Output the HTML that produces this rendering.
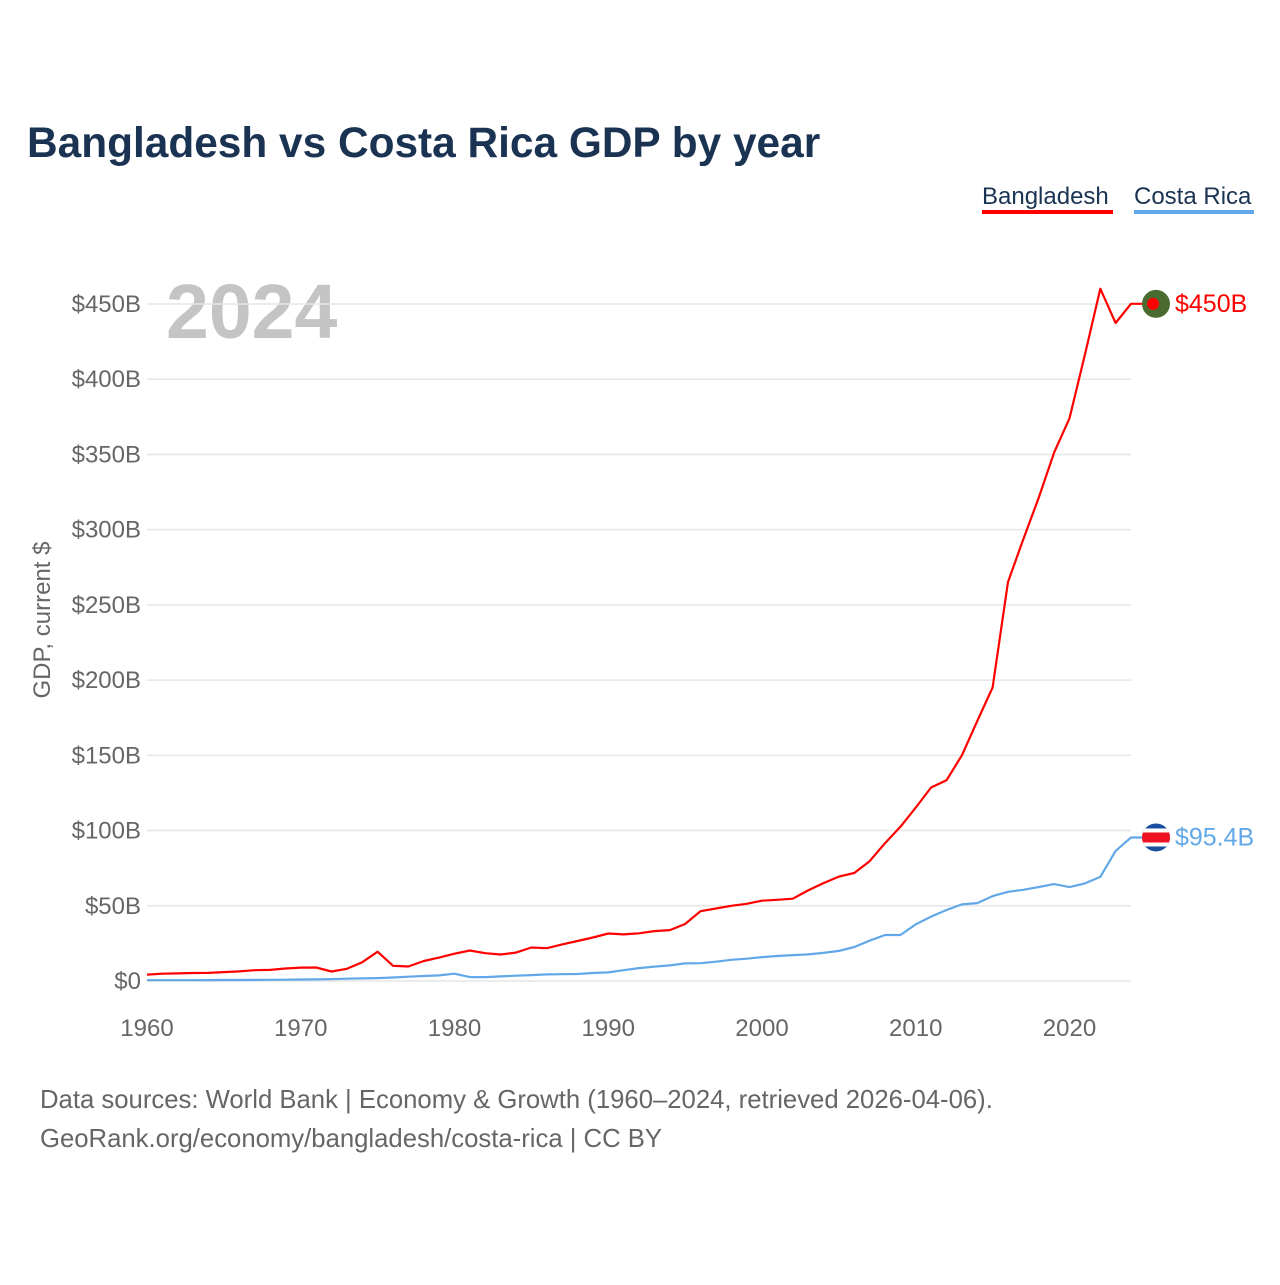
<!DOCTYPE html>
<html><head><meta charset="utf-8"><style>
body{margin:0;background:#fff;width:1280px;height:1280px;overflow:hidden;font-family:"Liberation Sans",sans-serif}
svg text{font-family:"Liberation Sans",sans-serif}
</style></head><body>
<svg id="chart" width="1280" height="1280" xmlns="http://www.w3.org/2000/svg">
<text x="27" y="157" font-size="42.4" font-weight="bold" fill="#1a3352">Bangladesh vs Costa Rica GDP by year</text>
<g>
<text x="982" y="204" font-size="24" fill="#1a3352">Bangladesh</text>
<rect x="982" y="210" width="131" height="4" fill="#ff0000"/>
<text x="1134" y="204" font-size="24" fill="#1a3352">Costa Rica</text>
<rect x="1134" y="210" width="120" height="4" fill="#62a8e8"/>
</g>
<text x="166" y="338" font-size="77" font-weight="bold" fill="#c4c4c4">2024</text>
<text transform="translate(50,620) rotate(-90)" text-anchor="middle" font-size="24" fill="#666">GDP, current $</text>
<g id="grid"></g><g id="lines"></g><g id="marks"></g>
<text x="40" y="1108" font-size="25.7" fill="#666">Data sources: World Bank | Economy &amp; Growth (1960–2024, retrieved 2026-04-06).</text>
<text x="40" y="1147" font-size="25.7" fill="#666">GeoRank.org/economy/bangladesh/costa-rica | CC BY</text>
</svg>
<script>
const years=[];for(let y=1960;y<=2024;y++)years.push(y);
const bangladesh=[4.27,4.82,5.08,5.32,5.39,5.91,6.39,7.21,7.36,8.33,8.93,8.96,6.29,8.09,12.5,19.45,10.12,9.65,13.28,15.57,18.14,20.25,18.5,17.6,18.9,22.3,21.8,24.3,26.6,28.9,31.6,30.96,31.7,33.2,33.8,37.9,46.4,48.2,50.0,51.3,53.4,54.0,54.7,60.2,65.1,69.4,71.8,79.6,91.6,102.5,115.3,128.6,133.4,150.0,172.9,195.1,265.2,293.8,321.4,351.2,374.0,416.3,460.2,437.4,450.1];
const costaRica=[0.51,0.5,0.53,0.56,0.59,0.64,0.69,0.74,0.8,0.87,0.98,1.08,1.24,1.5,1.71,1.93,2.33,2.89,3.35,3.69,4.83,2.62,2.57,3.08,3.54,3.92,4.4,4.55,4.65,5.34,5.71,7.16,8.57,9.55,10.4,11.72,11.84,12.83,14.1,14.8,15.9,16.6,17.2,17.7,18.7,20.0,22.6,26.8,30.6,30.6,37.7,42.8,47.2,50.9,51.8,56.4,59.3,60.6,62.5,64.4,62.4,64.9,69.2,86.5,95.4];
const yTicks=[0,50,100,150,200,250,300,350,400,450];
const yTickLabels=["$0","$50B","$100B","$150B","$200B","$250B","$300B","$350B","$400B","$450B"];
const xTicks=[1960,1970,1980,1990,2000,2010,2020];
const NS="http://www.w3.org/2000/svg";
const X=y=>147+(y-1960)*(1131-147)/64;
const Y=v=>981-v*(981-304)/450;
function mk(tag,attrs,parent){const e=document.createElementNS(NS,tag);for(const k in attrs)e.setAttribute(k,attrs[k]);parent.appendChild(e);return e;}
const grid=document.getElementById('grid');
yTicks.forEach((t,i)=>{
 const l=mk('line',{x1:147,x2:1131,y1:Y(t),y2:Y(t),stroke:'#e6e6e6','stroke-width':1.5},grid);
 
 
 const tx=mk('text',{x:141,y:Y(t)+8,'text-anchor':'end','font-size':24,fill:'#666'},grid);
 tx.textContent=yTickLabels[i];
 
 
});
xTicks.forEach(t=>{
 const tx=mk('text',{x:X(t),y:1036,'text-anchor':'middle','font-size':24,fill:'#666'},grid);
 tx.textContent=t;
 
 
});
const lines=document.getElementById('lines');
function series(vals,color,name){
 let d=vals.map((v,i)=>(i?'L':'M')+X(years[i]).toFixed(1)+','+Y(v).toFixed(1)).join(' ');
 d+=' L'+(X(2024)+14)+','+Y(vals[vals.length-1]).toFixed(1);
 const p=mk('path',{d:d,fill:'none',stroke:color,'stroke-width':2.2,'stroke-linejoin':'round'},lines);
 
 
}
series(costaRica,'#62a8e8','costa-rica');
series(bangladesh,'#ff0000','bangladesh');
const marks=document.getElementById('marks');
const bx=1156,by=Y(bangladesh[64]);
const g1=mk('g',{},marks);


mk('circle',{cx:bx,cy:by,r:14,fill:'#4a6b30'},g1);
mk('circle',{cx:bx-3,cy:by,r:6,fill:'#ff0000'},g1);
const t1=mk('text',{x:1175,y:by+8,'font-size':25,fill:'#ff0000'},marks);
t1.textContent='$450B';


const cy=Y(costaRica[64]);
const g2=mk('g',{},marks);


const cp=mk('clipPath',{id:'cc'},g2);mk('circle',{cx:bx,cy:cy,r:14},cp);
const fg=mk('g',{'clip-path':'url(#cc)'},g2);
mk('rect',{x:bx-14,y:cy-14,width:28,height:28,fill:'#1a4fa0'},fg);
mk('rect',{x:bx-14,y:cy-9,width:28,height:18,fill:'#fff'},fg);
mk('rect',{x:bx-14,y:cy-5,width:28,height:10,fill:'#ee1122'},fg);
const t2=mk('text',{x:1175,y:cy+8,'font-size':25,fill:'#62a8e8'},marks);
t2.textContent='$95.4B';


</script>
</body></html>
